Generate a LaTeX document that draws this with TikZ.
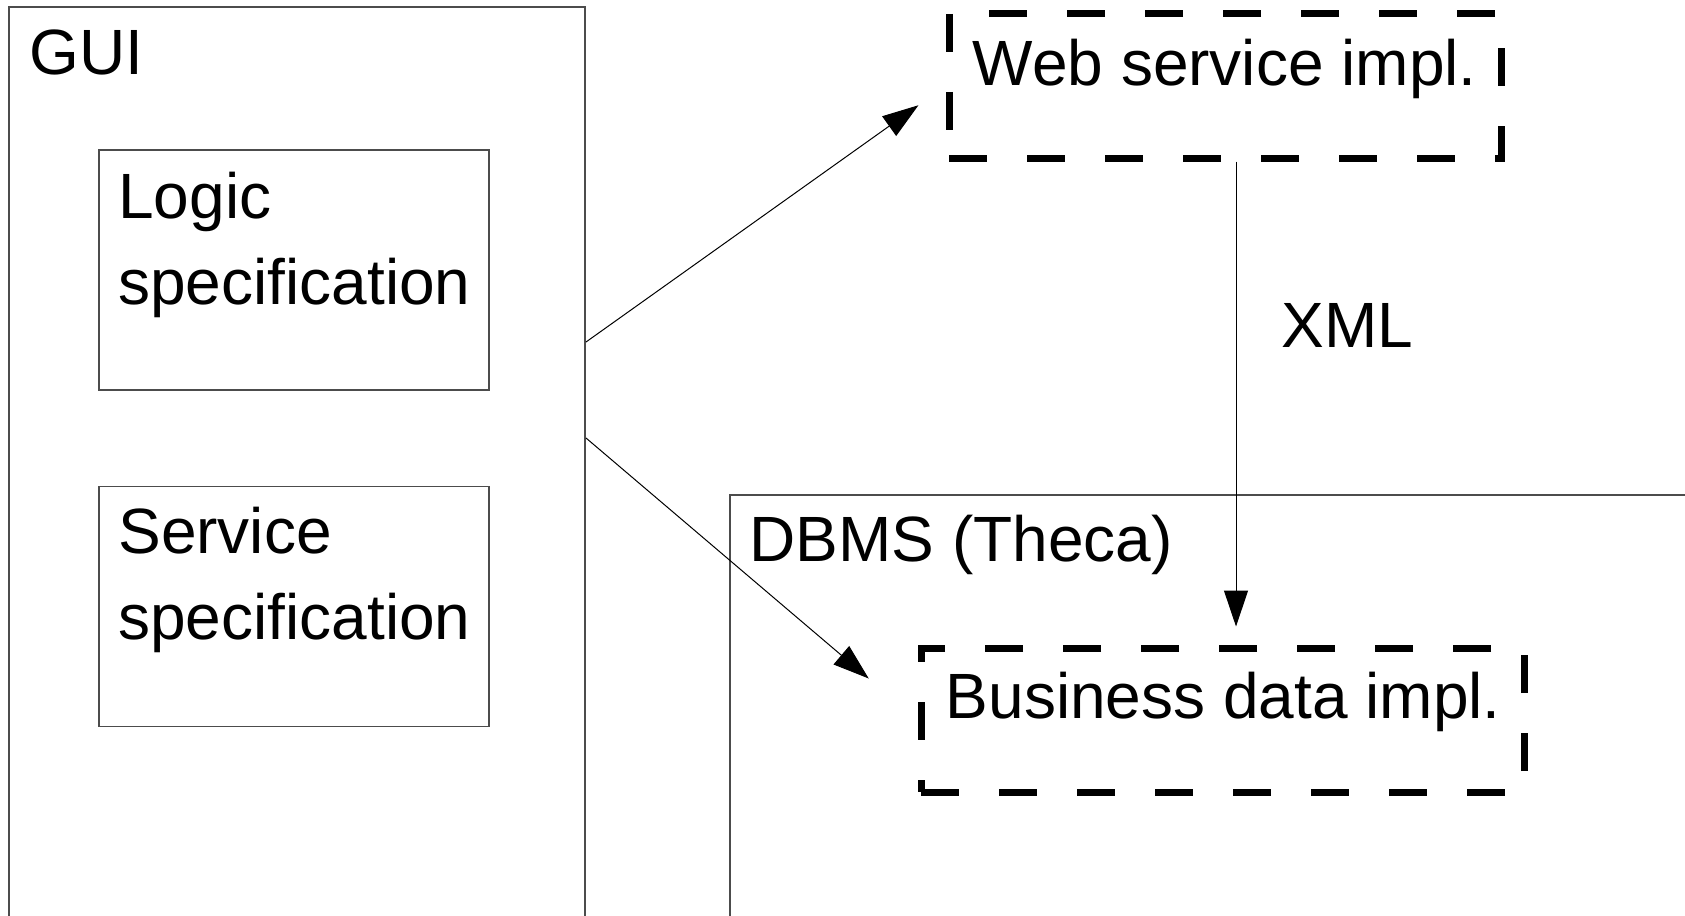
\documentclass[tikz,border=0pt]{standalone}
\usepackage{fontspec}
\setmainfont{Liberation Sans}
\usetikzlibrary{arrows.meta,calc}

\begin{document}
\begin{tikzpicture}[x=0.5pt, y=-0.5pt,
    frame/.style={draw=black!70, line width=1pt, inner sep=0pt},
    spec/.style={draw=black!70, line width=0.6pt, inner sep=0pt, minimum width=195pt, minimum height=120pt},
    impl/.style={draw, line width=3.5pt, dash pattern=on 19pt off 20pt, inner sep=0pt, minimum height=72pt},
    lbl/.style={font=\fontsize{32}{43}\selectfont, inner sep=0pt, anchor=base west, align=left},
    arr/.style={-{Triangle[length=18pt, width=12pt]}, line width=0.5pt}
]
\path[use as bounding box, clip] (0,0) rectangle (1685,915);
\fill[white] (0,0) rectangle (1685,915);

% outer boxes (run off the page)
\node[frame, minimum width=288.25pt, minimum height=496.5pt] (gui) at (296.75,503.5) {};
\node[frame, line width=0.7pt, minimum width=535pt, minimum height=252.5pt] (dbms) at (1265,747.5) {};
\node[lbl] (guitxt) at (29,75) {GUI};
\node[lbl] (dbmstxt) at (749,561) {DBMS (Theca)};

% specifications inside the GUI (base = last line)
\node[spec] (logic) at (294,270) {};
\node[spec] (service) at (294,606.5) {};
\node[lbl] (logictxt) at (118,304) {Logic\\specification};
\node[lbl] (servicetxt) at (118,639) {Service\\specification};

% implementations
\node[impl, minimum width=276pt] (web) at (1225,86) {};
\node[impl, minimum width=301.5pt] (biz) at (1222.5,720) {};
\node[lbl] (webtxt) at (972.5,86) {Web service impl.};
\node[lbl] (biztxt) at (945.5,718) {Business data impl.};

% connectors
\draw[arr, shorten >=16.6pt] ([yshift=80.75pt]gui.east) -- (web.west);
\draw[arr, shorten >=32pt] ([yshift=32.75pt]gui.east) -- (biz.west);
\draw[arr, shorten >=9pt] ([xshift=5.5pt]web.south) -- ([xshift=5.5pt]web.south |- biz.north);
\node[lbl] (xml) at (1281,347) {XML};
\end{tikzpicture}
\end{document}
